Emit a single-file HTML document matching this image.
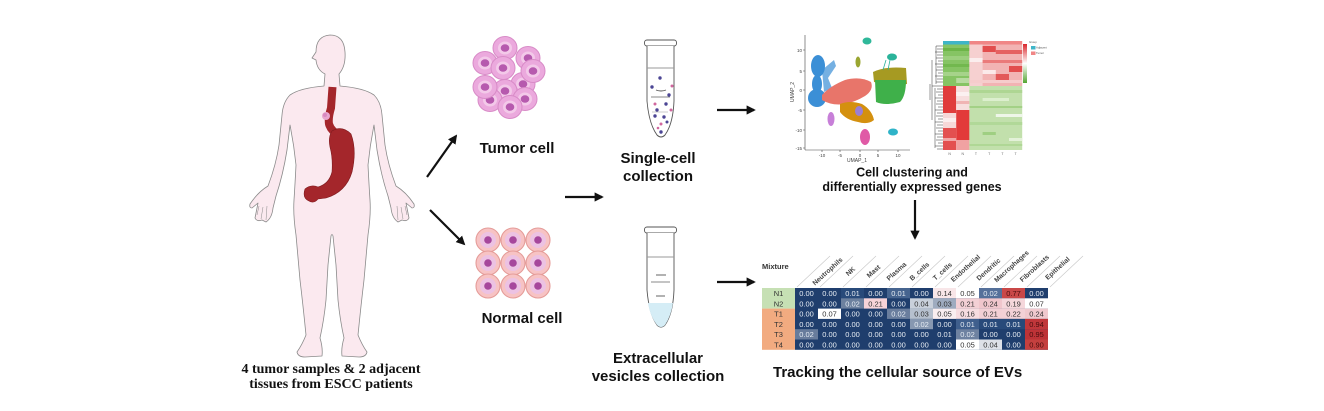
<!DOCTYPE html>
<html><head><meta charset="utf-8"><style>
html,body{margin:0;padding:0;background:#fff;}
body{width:1324px;height:411px;overflow:hidden;}
svg{display:block;}
.s{font-family:"Liberation Sans",Arial,sans-serif;}
.b{font-weight:bold;}
</style></head><body>
<svg width="1324" height="411" viewBox="0 0 1324 411" xmlns="http://www.w3.org/2000/svg">
<defs>
<marker id="ah" viewBox="0 0 10 10" refX="8" refY="5" markerWidth="4.2" markerHeight="4.2" orient="auto" markerUnits="strokeWidth">
<path d="M0 0 L10 5 L0 10 z" fill="#111"/>
</marker>
<linearGradient id="lg" x1="0" y1="0" x2="0" y2="1">
<stop offset="0" stop-color="#d9272c"/><stop offset="0.5" stop-color="#ffffff"/><stop offset="1" stop-color="#55a633"/>
</linearGradient>
</defs>
<rect width="1324" height="411" fill="#fff"/>

<!-- HUMAN FIGURE -->
<path d="M325 74 L324 86 Q300 88 290 95 Q283 102 282 115 L279 145 Q276 165 268 186 Q258 192 250 204 Q249 208 252 208 L258 203 L255 218 Q257 222 262 220 L266 222 Q272 218 273 208 L276 196 Q283 175 287 150 L290 125 Q294 145 296 165 Q295 185 294 200 Q293 215 296 235 L300 280 Q303 305 306 335 Q302 345 297 352 Q298 357 305 357 L322 356 Q323 348 320 338 Q324 320 326 300 L328 265 L331 236 Q332 233 333 236 L336 265 L338 300 Q340 320 344 338 Q341 348 342 356 L359 357 Q366 357 367 352 Q362 345 358 335 Q361 305 364 280 L368 235 Q371 215 370 200 Q369 185 368 165 Q370 145 374 125 L377 150 Q381 175 388 196 L391 208 Q392 218 398 222 L402 220 Q407 222 409 218 L406 203 L412 208 Q415 208 414 204 Q406 192 396 186 Q388 165 385 145 L382 115 Q381 102 374 95 Q364 88 340 86 L339 74 Q346 66 345 52 Q344 35 330 35 Q316 36 316 52 L312 58 L316 60 Q317 70 325 74 Z" fill="#fbe9ef" stroke="#8a8a8a" stroke-width="0.8" stroke-linejoin="round"/>
<g stroke="#8a8a8a" stroke-width="0.5" fill="none">
<path d="M259 206 L257 215 M263 207 L261 219 M267 206 L266 220"/>
<path d="M405 206 L407 215 M401 207 L403 219 M397 206 L398 220"/>
</g>
<!-- esophagus -->
<path d="M332.5 87 L331 108 Q328 118 329 124 Q331 131 338 134" fill="none" stroke="#a4262b" stroke-width="8" stroke-linecap="butt"/>
<!-- stomach -->
<path d="M332 131 Q342 125 351 134 Q357 150 352 172 Q346 192 326 198 L318 199 Q314 204 309 201 Q302 198 305 189 Q311 184 318 187 Q329 184 332 172 Q333 158 330 147 Q328 137 332 131 Z" fill="#a4262b" stroke="#7e1a1e" stroke-width="0.6"/>
<circle cx="326" cy="116" r="4" fill="#e8a6cf"/>
<circle cx="325" cy="115" r="2" fill="#d88ac0"/>

<text x="331" y="373" text-anchor="middle" font-family="'Liberation Serif','Times New Roman',serif" font-weight="bold" font-size="14" fill="#111">4 tumor samples &amp; 2 adjacent</text>
<text x="331" y="388" text-anchor="middle" font-family="'Liberation Serif','Times New Roman',serif" font-weight="bold" font-size="14" fill="#111">tissues from ESCC patients</text>

<!-- ARROWS -->
<g stroke="#111" stroke-width="2.2" fill="none" marker-end="url(#ah)">
<line x1="427" y1="177" x2="456" y2="136"/>
<line x1="430" y1="210" x2="464" y2="244"/>
<line x1="565" y1="197" x2="602" y2="197"/>
<line x1="717" y1="110" x2="754" y2="110"/>
<line x1="717" y1="282" x2="754" y2="282"/>
<line x1="915" y1="200" x2="915" y2="238"/>
</g>

<!-- TUMOR CELLS -->
<g stroke="#d88bc7" stroke-width="1">
<g><ellipse cx="528" cy="58" rx="12" ry="11.5" fill="#eba9dd"/><ellipse cx="528" cy="58" rx="7" ry="6.5" fill="#f3c9e9" stroke="none"/><ellipse cx="528" cy="58" rx="4.3" ry="3.8" fill="#b65aae" stroke="none"/></g>
<g><ellipse cx="485" cy="63" rx="12" ry="11.5" fill="#eba9dd"/><ellipse cx="485" cy="63" rx="7" ry="6.5" fill="#f3c9e9" stroke="none"/><ellipse cx="485" cy="63" rx="4.3" ry="3.8" fill="#b65aae" stroke="none"/></g>
<g><ellipse cx="505" cy="48" rx="12" ry="11.5" fill="#eba9dd"/><ellipse cx="505" cy="48" rx="7" ry="6.5" fill="#f3c9e9" stroke="none"/><ellipse cx="505" cy="48" rx="4.3" ry="3.8" fill="#b65aae" stroke="none"/></g>
<g><ellipse cx="503" cy="68" rx="12" ry="11.5" fill="#eba9dd"/><ellipse cx="503" cy="68" rx="7" ry="6.5" fill="#f3c9e9" stroke="none"/><ellipse cx="503" cy="68" rx="4.3" ry="3.8" fill="#b65aae" stroke="none"/></g>
<g><ellipse cx="523" cy="84" rx="12" ry="11.5" fill="#eba9dd"/><ellipse cx="523" cy="84" rx="7" ry="6.5" fill="#f3c9e9" stroke="none"/><ellipse cx="523" cy="84" rx="4.3" ry="3.8" fill="#b65aae" stroke="none"/></g>
<g><ellipse cx="533" cy="71" rx="12" ry="11.5" fill="#eba9dd"/><ellipse cx="533" cy="71" rx="7" ry="6.5" fill="#f3c9e9" stroke="none"/><ellipse cx="533" cy="71" rx="4.3" ry="3.8" fill="#b65aae" stroke="none"/></g>
<g><ellipse cx="505" cy="91" rx="12" ry="11.5" fill="#eba9dd"/><ellipse cx="505" cy="91" rx="7" ry="6.5" fill="#f3c9e9" stroke="none"/><ellipse cx="505" cy="91" rx="4.3" ry="3.8" fill="#b65aae" stroke="none"/></g>
<g><ellipse cx="490" cy="100" rx="12" ry="11.5" fill="#eba9dd"/><ellipse cx="490" cy="100" rx="7" ry="6.5" fill="#f3c9e9" stroke="none"/><ellipse cx="490" cy="100" rx="4.3" ry="3.8" fill="#b65aae" stroke="none"/></g>
<g><ellipse cx="485" cy="87" rx="12" ry="11.5" fill="#eba9dd"/><ellipse cx="485" cy="87" rx="7" ry="6.5" fill="#f3c9e9" stroke="none"/><ellipse cx="485" cy="87" rx="4.3" ry="3.8" fill="#b65aae" stroke="none"/></g>
<g><ellipse cx="525" cy="99" rx="12" ry="11.5" fill="#eba9dd"/><ellipse cx="525" cy="99" rx="7" ry="6.5" fill="#f3c9e9" stroke="none"/><ellipse cx="525" cy="99" rx="4.3" ry="3.8" fill="#b65aae" stroke="none"/></g>
<g><ellipse cx="510" cy="107" rx="12" ry="11.5" fill="#eba9dd"/><ellipse cx="510" cy="107" rx="7" ry="6.5" fill="#f3c9e9" stroke="none"/><ellipse cx="510" cy="107" rx="4.3" ry="3.8" fill="#b65aae" stroke="none"/></g>
</g>
<text x="517" y="153" text-anchor="middle" class="s b" font-size="15" fill="#111">Tumor cell</text>

<!-- NORMAL CELLS -->
<g stroke="#e59c98" stroke-width="1.1">
<g><circle cx="488" cy="240" r="12" fill="#f7c3c4"/><circle cx="488" cy="240" r="8" fill="#ecc2e3" stroke="none"/><circle cx="488" cy="240" r="3.8" fill="#a6479c" stroke="none"/></g>
<g><circle cx="513" cy="240" r="12" fill="#f7c3c4"/><circle cx="513" cy="240" r="8" fill="#ecc2e3" stroke="none"/><circle cx="513" cy="240" r="3.8" fill="#a6479c" stroke="none"/></g>
<g><circle cx="538" cy="240" r="12" fill="#f7c3c4"/><circle cx="538" cy="240" r="8" fill="#ecc2e3" stroke="none"/><circle cx="538" cy="240" r="3.8" fill="#a6479c" stroke="none"/></g>
<g><circle cx="488" cy="263" r="12" fill="#f7c3c4"/><circle cx="488" cy="263" r="8" fill="#ecc2e3" stroke="none"/><circle cx="488" cy="263" r="3.8" fill="#a6479c" stroke="none"/></g>
<g><circle cx="513" cy="263" r="12" fill="#f7c3c4"/><circle cx="513" cy="263" r="8" fill="#ecc2e3" stroke="none"/><circle cx="513" cy="263" r="3.8" fill="#a6479c" stroke="none"/></g>
<g><circle cx="538" cy="263" r="12" fill="#f7c3c4"/><circle cx="538" cy="263" r="8" fill="#ecc2e3" stroke="none"/><circle cx="538" cy="263" r="3.8" fill="#a6479c" stroke="none"/></g>
<g><circle cx="488" cy="286" r="12" fill="#f7c3c4"/><circle cx="488" cy="286" r="8" fill="#ecc2e3" stroke="none"/><circle cx="488" cy="286" r="3.8" fill="#a6479c" stroke="none"/></g>
<g><circle cx="513" cy="286" r="12" fill="#f7c3c4"/><circle cx="513" cy="286" r="8" fill="#ecc2e3" stroke="none"/><circle cx="513" cy="286" r="3.8" fill="#a6479c" stroke="none"/></g>
<g><circle cx="538" cy="286" r="12" fill="#f7c3c4"/><circle cx="538" cy="286" r="8" fill="#ecc2e3" stroke="none"/><circle cx="538" cy="286" r="3.8" fill="#a6479c" stroke="none"/></g>
</g>
<text x="522" y="323" text-anchor="middle" class="s b" font-size="15" fill="#111">Normal cell</text>

<!-- UPPER TUBE -->
<g fill="none" stroke="#555" stroke-width="0.9">
<rect x="644.5" y="40" width="32" height="6" rx="2.5" fill="#fff"/>
<path d="M647 46 L647 101 Q649 124 657 135 Q661 139 665 135 Q673 124 674 101 L674 46" fill="#fff"/>
<line x1="647" y1="68" x2="674" y2="68" stroke="#999"/>
<path d="M656 90 Q661 92 666 90"/>
<line x1="651" y1="97" x2="670" y2="97" stroke="#888"/>
<line x1="652" y1="112" x2="668" y2="112" stroke="#aaa" stroke-width="0.6"/>
</g>
<g>
<circle cx="660" cy="78" r="1.7" fill="#4b4594"/><circle cx="652" cy="87" r="1.7" fill="#4b4594"/><circle cx="672" cy="86" r="1.5" fill="#d1679e"/>
<circle cx="669" cy="95" r="1.7" fill="#4b4594"/><circle cx="655" cy="104" r="1.5" fill="#d1679e"/><circle cx="666" cy="104" r="1.7" fill="#4b4594"/>
<circle cx="671" cy="110" r="1.5" fill="#d1679e"/><circle cx="657" cy="110" r="1.7" fill="#4b4594"/><circle cx="655" cy="116" r="1.7" fill="#4b4594"/>
<circle cx="664" cy="117" r="1.7" fill="#4b4594"/><circle cx="661" cy="124" r="1.5" fill="#d1679e"/><circle cx="667" cy="122" r="1.5" fill="#4b4594"/>
<circle cx="661" cy="132" r="1.7" fill="#4b4594"/><circle cx="658" cy="128" r="1.3" fill="#d1679e"/>
</g>
<text x="658" y="163" text-anchor="middle" class="s b" font-size="15" fill="#111">Single-cell</text>
<text x="658" y="181" text-anchor="middle" class="s b" font-size="15" fill="#111">collection</text>

<!-- LOWER TUBE -->
<g fill="none" stroke="#555" stroke-width="0.9">
<rect x="644.5" y="227" width="32" height="6" rx="2.5" fill="#fff"/>
<path d="M647 233 L647 290 Q649 314 657 325 Q661 329 665 325 Q673 314 674 290 L674 233" fill="#fff"/>
<path d="M648 303 L673 303 Q671 316 665 325 Q661 329 657 325 Q650 316 648 303 Z" fill="#d5edf6" stroke="none"/>
<line x1="647" y1="257" x2="674" y2="257" stroke="#999"/>
<line x1="656" y1="275" x2="666" y2="275"/>
<line x1="651" y1="282" x2="670" y2="282" stroke="#888"/>
<line x1="656" y1="296" x2="665" y2="296"/>
</g>
<text x="658" y="363" text-anchor="middle" class="s b" font-size="15" fill="#111">Extracellular</text>
<text x="658" y="381" text-anchor="middle" class="s b" font-size="15" fill="#111">vesicles collection</text>

<!-- UMAP -->
<g stroke="#444" stroke-width="0.6" fill="none">
<line x1="805" y1="35" x2="805" y2="150"/>
<line x1="805" y1="150" x2="910" y2="150"/>
<path d="M803 50 H805 M803 71 H805 M803 90 H805 M803 110 H805 M803 130 H805 M803 148 H805"/>
<path d="M822 150 V152 M840 150 V152 M860 150 V152 M878 150 V152 M898 150 V152"/>
</g>
<g class="s" font-size="4.5" fill="#444" text-anchor="end">
<text x="802" y="52">10</text><text x="802" y="73">5</text><text x="802" y="92">0</text><text x="802" y="112">-5</text><text x="802" y="132">-10</text><text x="802" y="150">-15</text>
</g>
<g class="s" font-size="4.5" fill="#444" text-anchor="middle">
<text x="822" y="157">-10</text><text x="840" y="157">-5</text><text x="860" y="157">0</text><text x="878" y="157">5</text><text x="898" y="157">10</text>
<text x="857" y="162" font-size="5">UMAP_1</text>
<text x="794" y="92" font-size="5" transform="rotate(-90 794 92)">UMAP_2</text>
</g>
<g>
<ellipse cx="818" cy="66" rx="7" ry="11" fill="#3b8fd6"/>
<ellipse cx="817" cy="84" rx="5" ry="9" fill="#3b8fd6"/>
<ellipse cx="817" cy="98" rx="9" ry="9" fill="#3b8fd6"/>
<path d="M822 70 L834 60 L836 66 L828 78 L832 88 L824 92 Z" fill="#3b8fd6" opacity="0.7"/>
<path d="M822 95 Q830 86 845 80 Q860 76 871 82 Q874 90 865 96 Q855 102 845 104 Q832 106 822 100 Z" fill="#e8756a"/>
<path d="M840 104 Q850 100 862 104 Q872 110 874 120 Q868 125 858 122 Q846 120 840 112 Z" fill="#d4900f"/>
<ellipse cx="859" cy="111" rx="4" ry="5" fill="#9b7fd4"/>
<ellipse cx="831" cy="119" rx="3.5" ry="7" fill="#c77fd8"/>
<ellipse cx="865" cy="137" rx="5" ry="8" fill="#e05aa6"/>
<ellipse cx="867" cy="41" rx="4.5" ry="3.5" fill="#2fb89a"/>
<ellipse cx="858" cy="62" rx="2.5" ry="5.5" fill="#9aa632"/>
<path d="M873 72 Q885 66 906 68 L907 84 Q890 86 874 82 Z" fill="#a69a22"/>
<path d="M875 80 L906 80 Q906 96 900 102 Q885 106 876 102 Z" fill="#3fb04a"/>
<ellipse cx="892" cy="57" rx="5" ry="3.5" fill="#2bb39a"/>
<path d="M886 60 L883 70 M890 60 L888 70" stroke="#2bb39a" stroke-width="0.8"/>
<ellipse cx="893" cy="132" rx="5" ry="3.5" fill="#2fb3c8"/>
</g>

<!-- HEATMAP -->
<rect x="943" y="41" width="26.4" height="3.5" fill="#3fb5c8"/>
<rect x="969.4" y="41" width="52.8" height="3.5" fill="#f08686"/>
<!-- region A: cols1-2 top green -->
<rect x="943" y="44.5" width="26.4" height="41.5" fill="#86c464"/>
<rect x="943" y="48" width="26.4" height="3" fill="#6db548"/>
<rect x="943" y="56" width="26.4" height="4" fill="#9ccf7e"/>
<rect x="943" y="64" width="26.4" height="3" fill="#72b84e"/>
<rect x="943" y="72" width="26.4" height="4" fill="#a6d38a"/>
<rect x="956.2" y="78" width="13.2" height="5" fill="#b7dba0"/>
<!-- region B: cols3-6 top red/pink -->
<rect x="969.4" y="44.5" width="52.8" height="41.5" fill="#f2b3b3"/>
<rect x="969.4" y="44.5" width="13.2" height="41.5" fill="#f6d0d0"/>
<rect x="982.6" y="46" width="13.2" height="6" fill="#e24d4d"/>
<rect x="995.8" y="50" width="26.4" height="4" fill="#e56161"/>
<rect x="969.4" y="58" width="13.2" height="4" fill="#fbeeee"/>
<rect x="982.6" y="60" width="39.6" height="3" fill="#ea7a7a"/>
<rect x="1009" y="66" width="13.2" height="6" fill="#e24d4d"/>
<rect x="982.6" y="70" width="13.2" height="4" fill="#fbeaea"/>
<rect x="995.8" y="74" width="13.2" height="6" fill="#e35959"/>
<rect x="969.4" y="80" width="52.8" height="3" fill="#f6cccc"/>
<!-- region C: cols1-2 bottom -->
<rect x="943" y="86" width="13.2" height="27" fill="#e03c3c"/>
<rect x="956.2" y="86" width="13.2" height="24" fill="#f7dede"/>
<rect x="956.2" y="92" width="13.2" height="4" fill="#fbf0f0"/>
<rect x="956.2" y="101" width="13.2" height="3" fill="#f0b4b4"/>
<rect x="943" y="113" width="13.2" height="15" fill="#f6d8d8"/>
<rect x="943" y="118" width="13.2" height="4" fill="#fbeeee"/>
<rect x="956.2" y="110" width="13.2" height="30" fill="#e23a3a"/>
<rect x="943" y="128" width="13.2" height="22" fill="#e35050"/>
<rect x="943" y="138" width="13.2" height="3" fill="#f1a6a6"/>
<rect x="956.2" y="140" width="13.2" height="10" fill="#f0a2a2"/>
<!-- region D: cols3-6 bottom green -->
<rect x="969.4" y="86" width="52.8" height="64" fill="#c2e0ac"/>
<rect x="969.4" y="90" width="52.8" height="3" fill="#aed693"/>
<rect x="982.6" y="98" width="26.4" height="3" fill="#dcefce"/>
<rect x="969.4" y="106" width="52.8" height="2" fill="#a3d186"/>
<rect x="995.8" y="114" width="26.4" height="3" fill="#eef6e8"/>
<rect x="969.4" y="122" width="52.8" height="3" fill="#b1d898"/>
<rect x="982.6" y="132" width="13.2" height="3" fill="#9fcf82"/>
<rect x="1009" y="138" width="13.2" height="3" fill="#e3f1d8"/>
<rect x="969.4" y="144" width="52.8" height="2" fill="#afd795"/>
<!-- dendrogram -->
<path d="M943 46 H936 M943 49 H937 M943 52 H935 M943 55 H937 M943 58 H936 M943 61 H938 M943 64 H935 M943 67 H937 M943 70 H936 M943 73 H938 M943 76 H935 M943 79 H937 M943 82 H936 M943 86 H932 M943 89 H937 M943 92 H936 M943 95 H938 M943 98 H935 M943 101 H937 M943 104 H936 M943 107 H938 M943 110 H935 M943 113 H937 M943 116 H936 M943 119 H938 M943 122 H935 M943 125 H937 M943 128 H936 M943 131 H938 M943 134 H935 M943 137 H937 M943 140 H936 M943 143 H938 M943 146 H935 M943 149 H937 M936 46 V84 M935 88 V148 M932 60 V120 M930 84 V100" stroke="#333" stroke-width="0.5" fill="none"/>
<rect x="1023" y="44" width="4" height="39" fill="url(#lg)"/>
<g class="s" font-size="2.8" fill="#555">
<text x="1029" y="43">Group</text>
<text x="1036" y="48.5">Adjacent</text><text x="1036" y="54">Tumor</text>
</g>
<rect x="1031" y="46" width="4.5" height="3.5" fill="#3fb5c8"/>
<rect x="1031" y="51.5" width="4.5" height="3.5" fill="#f08686"/>
<g class="s" font-size="3.5" fill="#666" text-anchor="middle">
<text x="949.6" y="155">N</text><text x="962.8" y="155">N</text><text x="976" y="155">T</text><text x="989.2" y="155">T</text><text x="1002.4" y="155">T</text><text x="1015.6" y="155">T</text>
</g>
<text x="912" y="176.5" text-anchor="middle" class="s b" font-size="12.5" fill="#111">Cell clustering and</text>
<text x="912" y="191" text-anchor="middle" class="s b" font-size="12.5" fill="#111">differentially expressed genes</text>

<!-- TABLE HEADER -->
<text x="762" y="269" class="s b" font-size="7.5" fill="#333">Mixture</text>
<g stroke="#c8c8c8" stroke-width="0.6">
<line x1="797" y1="287" x2="830" y2="256"/><line x1="820" y1="287" x2="853" y2="256"/><line x1="843" y1="287" x2="876" y2="256"/><line x1="866" y1="287" x2="899" y2="256"/><line x1="889" y1="287" x2="922" y2="256"/><line x1="912" y1="287" x2="945" y2="256"/><line x1="935" y1="287" x2="968" y2="256"/><line x1="958" y1="287" x2="991" y2="256"/><line x1="981" y1="287" x2="1014" y2="256"/><line x1="1004" y1="287" x2="1037" y2="256"/><line x1="1027" y1="287" x2="1060" y2="256"/><line x1="1050" y1="287" x2="1083" y2="256"/>
</g>
<g class="s b" font-size="6.8" fill="#444" text-anchor="middle">
<text transform="translate(829 273) rotate(-42)">Neutrophils</text>
<text transform="translate(852 273) rotate(-42)">NK</text>
<text transform="translate(875 273) rotate(-42)">Mast</text>
<text transform="translate(898 273) rotate(-42)">Plasma</text>
<text transform="translate(921 273) rotate(-42)">B_cells</text>
<text transform="translate(944 273) rotate(-42)">T_cells</text>
<text transform="translate(967 270) rotate(-42)">Endothelial</text>
<text transform="translate(990 271) rotate(-42)">Dendritic</text>
<text transform="translate(1013 268) rotate(-42)">Macrophages</text>
<text transform="translate(1036 270) rotate(-42)">Fibroblasts</text>
<text transform="translate(1059 270) rotate(-42)">Epithelial</text>
</g>

<!-- TABLE LABEL COLUMN -->
<rect x="762" y="288" width="33" height="20.6" fill="#c6e0b4"/>
<rect x="762" y="308.6" width="33" height="41.2" fill="#f2ab80"/>
<g class="s" font-size="7.5" fill="#333" text-anchor="middle">
<text x="778.5" y="296">N1</text><text x="778.5" y="306.3">N2</text><text x="778.5" y="316.6">T1</text><text x="778.5" y="326.9">T2</text><text x="778.5" y="337.2">T3</text><text x="778.5" y="347.5">T4</text>
</g>

<!-- TABLE CELLS -->
<rect x="795" y="288" width="253" height="61.8" fill="#1f3e6d"/>
<g>
<!-- N1 -->
<rect x="841" y="288" width="23" height="10.3" fill="#284a7a"/>
<rect x="887" y="288" width="23" height="10.3" fill="#46648f"/>
<rect x="933" y="288" width="23" height="10.3" fill="#f8e6e8"/>
<rect x="956" y="288" width="23" height="10.3" fill="#ffffff"/>
<rect x="979" y="288" width="23" height="10.3" fill="#55709a"/>
<rect x="1002" y="288" width="23" height="10.3" fill="#c94848"/>
<!-- N2 -->
<rect x="841" y="298.3" width="23" height="10.3" fill="#6d819f"/>
<rect x="864" y="298.3" width="23" height="10.3" fill="#f7d3d8"/>
<rect x="910" y="298.3" width="23" height="10.3" fill="#c9d0db"/>
<rect x="933" y="298.3" width="23" height="10.3" fill="#9eabbf"/>
<rect x="956" y="298.3" width="23" height="10.3" fill="#f3d0d5"/>
<rect x="979" y="298.3" width="23" height="10.3" fill="#f0c6cc"/>
<rect x="1002" y="298.3" width="23" height="10.3" fill="#f5d7db"/>
<rect x="1025" y="298.3" width="23" height="10.3" fill="#ffffff"/>
<!-- T1 -->
<rect x="818" y="308.6" width="23" height="10.3" fill="#ffffff"/>
<rect x="887" y="308.6" width="23" height="10.3" fill="#6a7e9e"/>
<rect x="910" y="308.6" width="23" height="10.3" fill="#b6c0ce"/>
<rect x="933" y="308.6" width="23" height="10.3" fill="#f9eef0"/>
<rect x="956" y="308.6" width="23" height="10.3" fill="#f6dce0"/>
<rect x="979" y="308.6" width="23" height="10.3" fill="#f3d0d5"/>
<rect x="1002" y="308.6" width="23" height="10.3" fill="#f3d1d6"/>
<rect x="1025" y="308.6" width="23" height="10.3" fill="#f0c9ce"/>
<!-- T2 -->
<rect x="910" y="318.9" width="23" height="10.3" fill="#8798b1"/>
<rect x="956" y="318.9" width="23" height="10.3" fill="#3f5f8d"/>
<rect x="979" y="318.9" width="23" height="10.3" fill="#284a7a"/>
<rect x="1002" y="318.9" width="23" height="10.3" fill="#284a7a"/>
<rect x="1025" y="318.9" width="23" height="10.3" fill="#c0373b"/>
<!-- T3 -->
<rect x="795" y="329.2" width="23" height="10.3" fill="#687c9c"/>
<rect x="956" y="329.2" width="23" height="10.3" fill="#6e82a1"/>
<rect x="1025" y="329.2" width="23" height="10.3" fill="#be3337"/>
<!-- T4 -->
<rect x="956" y="339.5" width="23" height="10.3" fill="#ffffff"/>
<rect x="979" y="339.5" width="23" height="10.3" fill="#dde1e8"/>
<rect x="1025" y="339.5" width="23" height="10.3" fill="#c4403f"/>
</g>
<g class="s" font-size="7.5" text-anchor="middle" fill="#e6ecf3">
<!-- N1 -->
<text x="806.5" y="296">0.00</text><text x="829.5" y="296">0.00</text><text x="852.5" y="296">0.01</text><text x="875.5" y="296">0.00</text><text x="898.5" y="296">0.01</text><text x="921.5" y="296">0.00</text><text x="944.5" y="296" fill="#333">0.14</text><text x="967.5" y="296" fill="#333">0.05</text><text x="990.5" y="296">0.02</text><text x="1013.5" y="296" fill="#4a0d0d">0.77</text><text x="1036.5" y="296">0.00</text>
<!-- N2 -->
<text x="806.5" y="306.3">0.00</text><text x="829.5" y="306.3">0.00</text><text x="852.5" y="306.3">0.02</text><text x="875.5" y="306.3" fill="#333">0.21</text><text x="898.5" y="306.3">0.00</text><text x="921.5" y="306.3" fill="#333">0.04</text><text x="944.5" y="306.3" fill="#333">0.03</text><text x="967.5" y="306.3" fill="#333">0.21</text><text x="990.5" y="306.3" fill="#333">0.24</text><text x="1013.5" y="306.3" fill="#333">0.19</text><text x="1036.5" y="306.3" fill="#333">0.07</text>
<!-- T1 -->
<text x="806.5" y="316.6">0.00</text><text x="829.5" y="316.6" fill="#333">0.07</text><text x="852.5" y="316.6">0.00</text><text x="875.5" y="316.6">0.00</text><text x="898.5" y="316.6">0.02</text><text x="921.5" y="316.6" fill="#333">0.03</text><text x="944.5" y="316.6" fill="#333">0.05</text><text x="967.5" y="316.6" fill="#333">0.16</text><text x="990.5" y="316.6" fill="#333">0.21</text><text x="1013.5" y="316.6" fill="#333">0.22</text><text x="1036.5" y="316.6" fill="#333">0.24</text>
<!-- T2 -->
<text x="806.5" y="326.9">0.00</text><text x="829.5" y="326.9">0.00</text><text x="852.5" y="326.9">0.00</text><text x="875.5" y="326.9">0.00</text><text x="898.5" y="326.9">0.00</text><text x="921.5" y="326.9">0.02</text><text x="944.5" y="326.9">0.00</text><text x="967.5" y="326.9">0.01</text><text x="990.5" y="326.9">0.01</text><text x="1013.5" y="326.9">0.01</text><text x="1036.5" y="326.9" fill="#4a0d0d">0.94</text>
<!-- T3 -->
<text x="806.5" y="337.2">0.02</text><text x="829.5" y="337.2">0.00</text><text x="852.5" y="337.2">0.00</text><text x="875.5" y="337.2">0.00</text><text x="898.5" y="337.2">0.00</text><text x="921.5" y="337.2">0.00</text><text x="944.5" y="337.2">0.01</text><text x="967.5" y="337.2">0.02</text><text x="990.5" y="337.2">0.00</text><text x="1013.5" y="337.2">0.00</text><text x="1036.5" y="337.2" fill="#4a0d0d">0.95</text>
<!-- T4 -->
<text x="806.5" y="347.5">0.00</text><text x="829.5" y="347.5">0.00</text><text x="852.5" y="347.5">0.00</text><text x="875.5" y="347.5">0.00</text><text x="898.5" y="347.5">0.00</text><text x="921.5" y="347.5">0.00</text><text x="944.5" y="347.5">0.00</text><text x="967.5" y="347.5" fill="#333">0.05</text><text x="990.5" y="347.5" fill="#333">0.04</text><text x="1013.5" y="347.5">0.00</text><text x="1036.5" y="347.5" fill="#4a0d0d">0.90</text>
</g>

<text x="773" y="377" class="s b" font-size="15" fill="#111">Tracking the cellular source of EVs</text>
</svg>
</body></html>
